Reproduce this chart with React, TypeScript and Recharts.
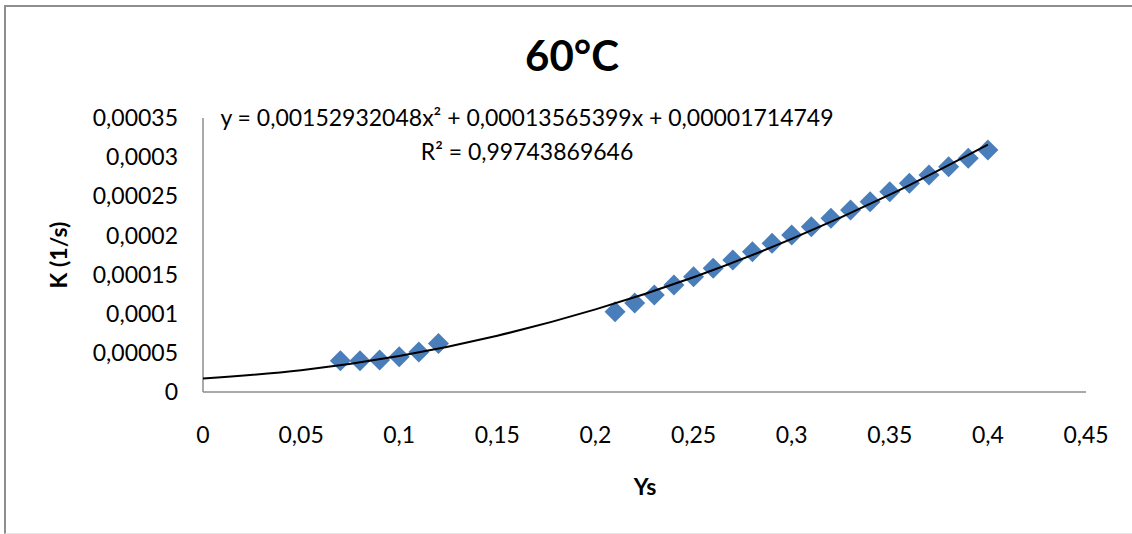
import React from 'react';
import { ComposedChart, Scatter, Line, XAxis, YAxis } from 'recharts';

// measured points, Ys vs K (1/s)
const lowYs = [0.07, 0.08, 0.09, 0.1, 0.11, 0.12];
const lowK = [0.00004, 0.00004, 0.000041, 0.000045, 0.000051, 0.000062];

const highYs = [
  0.21, 0.22, 0.23, 0.24, 0.25, 0.26, 0.27, 0.28, 0.29, 0.3,
  0.31, 0.32, 0.33, 0.34, 0.35, 0.36, 0.37, 0.38, 0.39, 0.4,
];
const highK = [
  0.0001026, 0.0001137, 0.0001239, 0.0001367, 0.0001473, 0.000158, 0.0001686,
  0.0001792, 0.0001899, 0.0002006, 0.0002112, 0.0002219, 0.0002325, 0.0002431,
  0.0002559, 0.0002666, 0.0002772, 0.0002878, 0.0002985, 0.0003091,
];

// polynomial trendline
const trendYs = [0, 0.05, 0.1, 0.15, 0.2, 0.25, 0.3, 0.35, 0.4];
const trendK = [
  0.0000171, 0.0000278, 0.000046, 0.0000719, 0.0001055, 0.0001466, 0.0001955,
  0.000252, 0.0003161,
];

const xTicks = [0, 0.05, 0.1, 0.15, 0.2, 0.25, 0.3, 0.35, 0.4, 0.45];
const yTicks = [0, 0.00005, 0.0001, 0.00015, 0.0002, 0.00025, 0.0003, 0.00035];

const points = [
  ...lowYs.map((x, i) => ({ x, y: lowK[i] })),
  ...highYs.map((x, i) => ({ x, y: highK[i] })),
];
const trend = trendYs.map((x, i) => ({ x, y: trendK[i] }));

const FONT = 'Lato, "Open Sans", sans-serif';
const AXIS_GREY = '#8c8c8c';

const comma = (v: number) => String(v).replace('.', ',');

const Diamond = (props: any) => {
  const { cx, cy } = props;
  const r = 10.5;
  return (
    <polygon
      points={`${cx},${cy - r} ${cx + r},${cy} ${cx},${cy + r} ${cx - r},${cy}`}
      fill="#4a7ebb"
    />
  );
};

export default function App() {
  return (
    <div
      style={{
        position: 'absolute',
        left: 0,
        top: 0,
        width: 1132,
        height: 534,
        overflow: 'hidden',
        background: '#fff',
        fontFamily: FONT,
      }}
    >
      <div
        style={{
          position: 'absolute',
          left: 4,
          top: 5,
          width: 1150,
          height: 526,
          borderLeft: '2px solid #8e8e8e',
          borderTop: '2px solid #8e8e8e',
          borderBottom: '1px solid #e6e6e6',
        }}
      />
      <ComposedChart
        width={1132}
        height={534}
        margin={{ top: 118, right: 46, bottom: 0, left: 0 }}
        style={{ position: 'absolute', left: 0, top: 0 }}
      >
        <XAxis
          type="number"
          dataKey="x"
          domain={[0, 0.45]}
          ticks={xTicks}
          tickFormatter={comma}
          height={142}
          axisLine={{ stroke: AXIS_GREY, strokeWidth: 1.5 }}
          tickLine={false}
          tickSize={6}
          tickMargin={29}
          tick={{ fill: '#000', fontSize: 23, fontFamily: FONT }}
          interval={0}
        />
        <YAxis
          type="number"
          dataKey="y"
          domain={[0, 0.00035]}
          ticks={yTicks}
          tickFormatter={comma}
          width={203}
          axisLine={{ stroke: AXIS_GREY, strokeWidth: 1.5 }}
          tickLine={false}
          tickSize={6}
          tickMargin={19}
          tick={{ fill: '#000', fontSize: 23, fontFamily: FONT }}
          interval={0}
        />
        <Scatter data={points} dataKey="y" shape={Diamond} isAnimationActive={false} />
        {/* trendline sits on top of the markers */}
        <Line
          data={trend}
          dataKey="y"
          type="monotone"
          stroke="#000"
          strokeWidth={2}
          dot={false}
          activeDot={false}
          zIndex={700}
          isAnimationActive={false}
        />
      </ComposedChart>
      <svg
        width={1132}
        height={534}
        style={{ position: 'absolute', left: 0, top: 0, pointerEvents: 'none' }}
        fontFamily={FONT}
      >
        <text x={572} y={71} textAnchor="middle" fontSize={42} fontWeight="bold">
          60°C
        </text>
        <text x={527} y={126} textAnchor="middle" fontSize={23}>
          y = 0,00152932048x² + 0,00013565399x + 0,00001714749
        </text>
        <text x={527} y={160} textAnchor="middle" fontSize={23}>
          R² = 0,99743869646
        </text>
        <text
          x={67}
          y={255}
          textAnchor="middle"
          fontSize={23}
          fontWeight="bold"
          transform="rotate(-90 67 255)"
        >
          K (1/s)
        </text>
        <text x={645} y={495} textAnchor="middle" fontSize={23} fontWeight="bold">
          Ys
        </text>
      </svg>
    </div>
  );
}
